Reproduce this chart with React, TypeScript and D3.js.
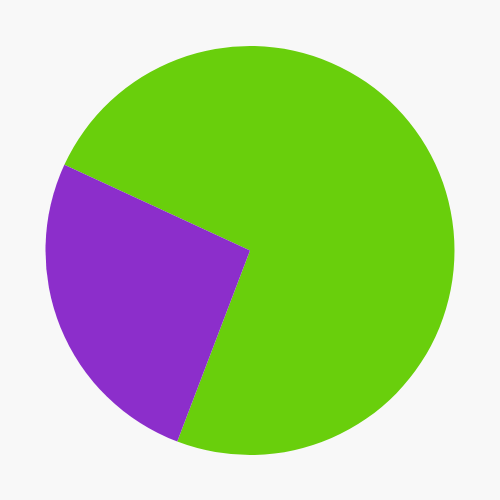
import React, { useEffect, useRef } from "react";
import * as d3 from "d3";

const categories = ["A", "B"];
const values = [73.9, 26.1];
const colors = ["#69cf0c", "#8c2ecb"];

const App = () => {
  const ref = useRef<SVGSVGElement>(null);

  useEffect(() => {
    document.body.style.margin = "0";
    const svg = d3.select(ref.current);
    svg.selectAll("*").remove();

    svg.append("rect").attr("width", 500).attr("height", 500).attr("fill", "#f8f8f8");

    const pie = d3
      .pie<number>()
      .sort(null)
      .startAngle((294.8 * Math.PI) / 180)
      .endAngle((294.8 * Math.PI) / 180 + 2 * Math.PI);

    const arc = d3.arc<d3.PieArcDatum<number>>().innerRadius(0).outerRadius(204.5);

    svg
      .append("g")
      .attr("transform", "translate(250,250.5)")
      .selectAll("path")
      .data(pie(values))
      .enter()
      .append("path")
      .attr("d", arc)
      .attr("fill", (d, i) => colors[i])
      .append("title")
      .text((d, i) => categories[i]);
  }, []);

  return <svg ref={ref} width={500} height={500} style={{ display: "block" }}></svg>;
};

export default App;
